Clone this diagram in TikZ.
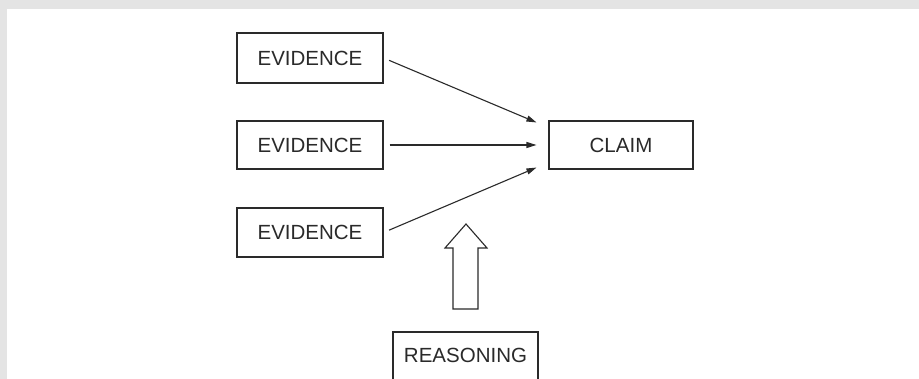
\documentclass[tikz,border=0pt]{standalone}
\usepackage{fontspec}
\setmainfont{Liberation Sans}
\usetikzlibrary{arrows.meta,calc}
\definecolor{frame}{HTML}{E4E4E4}
\definecolor{ink}{HTML}{2A2A2A}
\tikzset{
  box/.style={draw=ink, line width=1.1pt, rectangle, inner sep=0pt, minimum width=146pt,
    text=ink, font=\fontsize{20.5}{24}\selectfont, text height=14.7pt, text depth=0pt},
  conn/.style={draw=ink, line width=1.1pt, -{Triangle[length=10pt,width=6pt]}, shorten <=6pt}
}
\begin{document}
\begin{tikzpicture}[x=1pt,y=1pt]
\clip (0,0) rectangle (919,-379);
\fill[frame] (0,0) rectangle (919,-379);
\fill[white] (7,-9) rectangle (919,-379);
\node[box, minimum height=50pt] (e1) at (310,-58) {EVIDENCE};
\node[box, minimum height=48pt] (e2) at (310,-145) {EVIDENCE};
\node[box, minimum height=49pt] (e3) at (310,-232.5) {EVIDENCE};
\node[box, minimum width=144pt, minimum height=48pt] (claim) at (621,-145) {CLAIM};
\node[box, minimum width=145pt, minimum height=50pt, text depth=4pt] (reason) at (465.5,-357) {REASONING};
\coordinate (t1) at ($(claim.north west)+(-12,-2)$);
\coordinate (t2) at ($(claim.west)+(-12,0)$);
\coordinate (t3) at ($(claim.south west)+(-12,2)$);
\draw[conn] (e1.east) -- (t1);
\draw[conn] (e2.east) -- (t2);
\draw[conn] (e3.east) -- (t3);
\draw[ink, line width=1.1pt, line join=miter]
  (453,-309) -- (453,-248) -- (445,-248) -- (466,-224) -- (487,-248) -- (478,-248) -- (478,-309) -- cycle;
\end{tikzpicture}
\end{document}
